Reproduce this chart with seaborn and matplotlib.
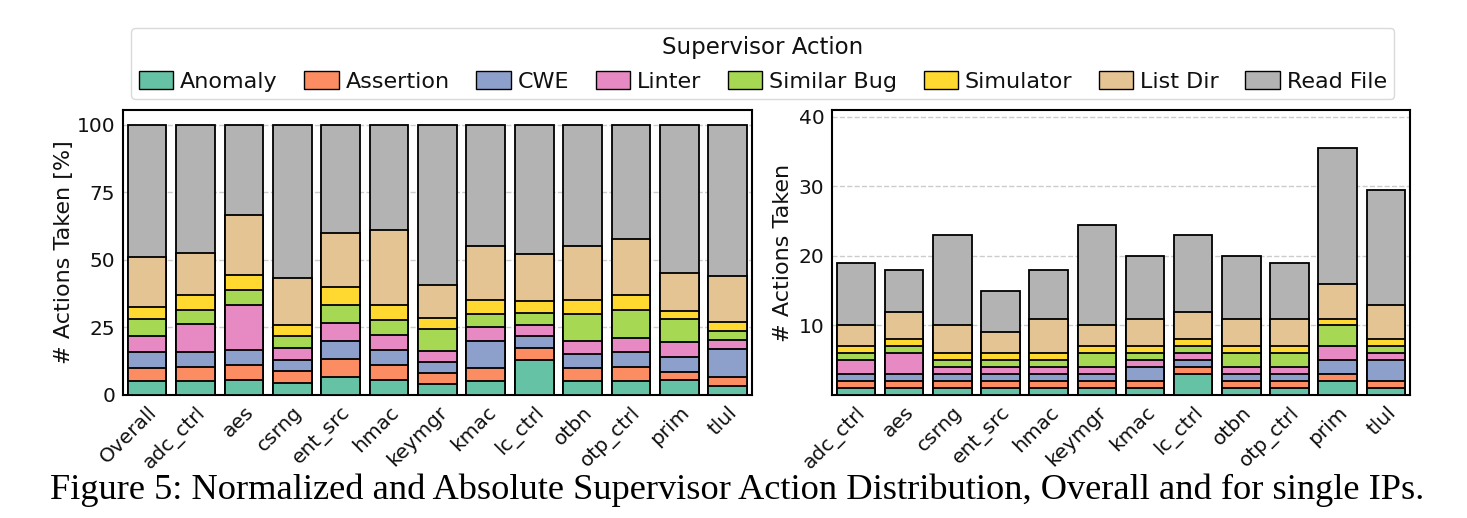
import numpy as np
import pandas as pd
import matplotlib
matplotlib.use("Agg")
import matplotlib.pyplot as plt
from matplotlib.patches import Patch
import seaborn as sns

# -------------------------------------------------------------------------
# Data
# -------------------------------------------------------------------------

IPS = ["adc_ctrl", "aes", "csrng", "ent_src", "hmac", "keymgr",
       "kmac", "lc_ctrl", "otbn", "otp_ctrl", "prim", "tlul"]
ACTIONS = ["Anomaly", "Assertion", "CWE", "Linter",
           "Similar Bug", "Simulator", "List Dir", "Read File"]

# absolute number of actions per IP
anomaly     = [1, 1, 1, 1, 1, 1, 1, 3, 1, 1, 2, 1]
assertion   = [1, 1, 1, 1, 1, 1, 1, 1, 1, 1, 1, 1]
cwe         = [1, 1, 1, 1, 1, 1, 2, 1, 1, 1, 2, 3]
linter      = [2, 3, 1, 1, 1, 1, 1, 1, 1, 1, 2, 1]
similar_bug = [1, 1, 1, 1, 1, 2, 1, 1, 2, 2, 3, 1]
simulator   = [1, 1, 1, 1, 1, 1, 1, 1, 1, 1, 1, 1]
list_dir    = [3, 4, 4, 3, 5, 3, 4, 4, 4, 4, 5, 5]
read_file   = [9, 6, 13, 6, 7, 14.5, 9, 11, 9, 8, 19.5, 16.5]

# overall share [%] per action
overall_pct = [5.3, 4.6, 5.9, 6.05, 6.45, 4.4, 18.2, 49.1]

COLORS = sns.color_palette("Set2", 8)

# -------------------------------------------------------------------------
# Tables
# -------------------------------------------------------------------------

abs_df = pd.DataFrame(
    dict(zip(ACTIONS, [anomaly, assertion, cwe, linter, similar_bug,
                       simulator, list_dir, read_file])),
    index=IPS,
)
pct_df = abs_df.div(abs_df.sum(axis=1), axis=0) * 100
pct_df = pd.concat([pd.DataFrame([overall_pct], columns=ACTIONS, index=["Overall"]),
                    pct_df])


def _stacked(ax, df):
    """Stacked bars: draw cumulative totals from top layer downwards."""
    cum = df.cumsum(axis=1)
    for i in reversed(range(len(ACTIONS))):
        sns.barplot(x=list(df.index), y=cum[ACTIONS[i]].values, color=COLORS[i],
                    saturation=1, width=0.8, edgecolor="black", linewidth=1.3,
                    ax=ax, zorder=3)
    ax.set_axisbelow(True)
    ax.yaxis.grid(True, linestyle="--", color="#cccccc", linewidth=1)
    ax.set_xlim(-0.5, len(df) - 0.5)
    ax.set_xlabel("")
    for s in ax.spines.values():
        s.set_visible(True)
        s.set_color("black")
        s.set_linewidth(1.5)
    ax.tick_params(axis="both", labelsize=14.5, length=3.5, width=1.2,
                   color="black", labelcolor="#111111", pad=2)
    plt.setp(ax.get_xticklabels(), rotation=45, ha="right",
             rotation_mode="anchor")


sns.set_style("white")
plt.rcParams["font.family"] = ["DejaVu Sans"]
plt.rcParams["text.color"] = "#111111"
plt.rcParams["axes.labelcolor"] = "#111111"

fig = plt.figure(figsize=(14.67, 5.18), dpi=100)
ax1 = fig.add_axes([0.0838, 0.2375, 0.4288, 0.5502])
ax2 = fig.add_axes([0.5671, 0.2375, 0.394, 0.5502])

_stacked(ax1, pct_df)
ax1.set_ylim(0, 105.5)
ax1.set_yticks([0, 25, 50, 75, 100])
ax1.set_ylabel("# Actions Taken [%]", fontsize=16, labelpad=2)

_stacked(ax2, abs_df)
ax2.set_ylim(0, 41)
ax2.set_yticks([0, 10, 20, 30, 40])
ax2.set_yticklabels(["", "10", "20", "30", "40"])
ax2.set_ylabel("# Actions Taken", fontsize=16, labelpad=4)

handles = [Patch(facecolor=c, edgecolor="black", linewidth=1) for c in COLORS]
leg = fig.legend(handles, ACTIONS, loc="upper center", bbox_to_anchor=(0.52, 0.946),
                 ncol=8, title="Supervisor Action", fontsize=16,
                 title_fontsize=16.5, frameon=True, fancybox=True,
                 handlelength=1.55, handleheight=0.85, handletextpad=0.3,
                 columnspacing=1.2, borderpad=0.35, labelspacing=0.55,
                 borderaxespad=0)
leg.get_frame().set_edgecolor("#d0d0d0")

fig.text(0.5026, 0.054,
         "Figure 5: Normalized and Absolute Supervisor Action Distribution, "
         "Overall and for single IPs.",
         ha="center", va="center", fontsize=26.2, family="Liberation Serif",
         color="black")

fig.savefig("out.png", dpi=100)
